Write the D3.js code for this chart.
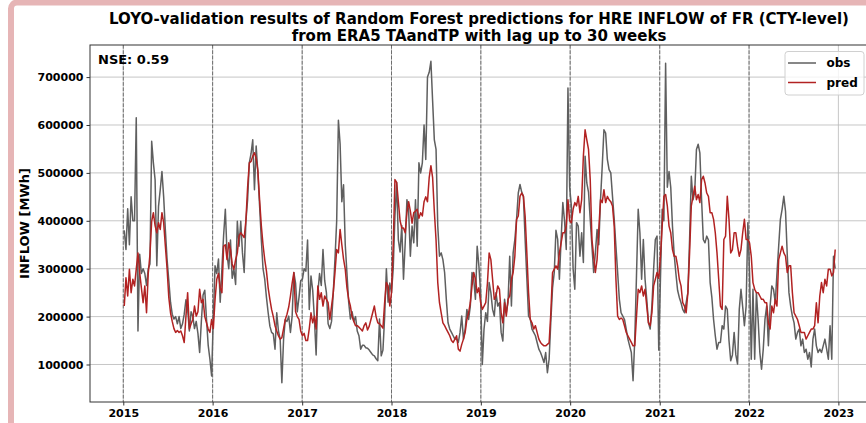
<!DOCTYPE html>
<html>
<head>
<meta charset="utf-8">
<script src="https://cdn.jsdelivr.net/npm/d3@7"></script>
<style>
  html, body { margin: 0; padding: 0; background: #fff; }
  svg { display: block; font-family: "DejaVu Sans", sans-serif; }
</style>
</head>
<body>
<svg id="chart" width="866" height="423"></svg>
<script>
// Weekly HRE inflow for FR, observed vs. Random Forest prediction (values in thousand MWh)
const obs2015 = [380,340,425,350,450,400,400,615,170,330,290,300,290,265,300,310,566,521,486,306,430,465,503,450,380,319,275,230,205,195,200,185,200,175,185,205,235,215,170,210,200,175,190,165,125,190,245,255,195,140,111,76];
const obs2016 = [200,306,290,320,230,300,370,424,330,300,360,280,299,267,399,347,399,333,292,399,444,521,540,569,465,556,500,431,361,300,278,240,208,180,167,164,132,208,170,153,62,153,194,190,201,167,201,292,270,210,240,275];
const obs2017 = [278,300,295,360,215,285,255,195,120,250,290,265,340,275,250,185,175,190,250,320,400,610,560,440,475,350,290,230,195,210,190,200,170,160,132,140,140,135,134,130,125,120,118,112,108,195,118,130,200,300,230,270];
const obs2018 = [250,300,410,480,360,335,390,278,354,444,420,326,389,354,444,347,521,500,521,600,528,700,710,733,650,569,549,389,326,333,319,292,236,187,174,167,160,153,153,146,167,201,153,174,215,194,222,292,278,236,347,306];
const obs2019 = [250,100,174,208,190,271,250,215,201,250,222,229,167,149,236,208,229,326,222,333,361,403,458,476,460,451,361,280,201,195,174,167,160,146,132,125,115,104,125,83,111,190,260,292,380,361,278,361,438,400,340,677];
const obs2020 = [470,431,300,257,396,389,326,375,313,535,479,460,403,347,292,333,382,350,444,514,590,583,528,507,500,451,403,347,292,236,208,201,194,174,153,139,125,66,153,285,424,375,278,361,278,236,187,174,222,299,361,368];
const obs2021 = [130,280,424,400,729,470,503,470,389,330,290,255,240,229,215,208,229,250,361,493,444,460,549,560,542,444,361,354,368,360,271,240,194,160,132,146,146,181,174,222,215,150,108,120,167,120,101,215,257,220,181,222];
const obs2022 = [396,292,111,257,111,250,194,125,90,132,194,222,139,222,264,257,229,290,347,403,424,451,420,330,250,222,201,187,153,167,174,139,153,125,132,111,125,95,153,174,139,125,132,125,139,153,132,111,181,111,326,300];

const pred2015 = [222,281,243,299,250,278,264,299,333,292,260,229,264,208,290,330,399,417,390,375,396,382,417,396,347,300,240,208,190,175,167,171,167,170,160,146,200,250,174,185,194,222,201,210,257,229,236,200,187,174,167,194];
const pred2016 = [175,236,278,290,260,250,347,350,319,354,340,310,299,319,333,368,375,370,365,400,470,521,524,535,542,530,505,444,390,350,319,295,260,236,215,200,181,170,160,153,156,175,194,205,220,243,270,292,210,200,194,170];
const pred2017 = [160,165,150,150,175,208,187,201,174,264,236,250,222,243,236,229,194,222,250,292,340,333,382,350,320,299,260,236,222,200,190,181,181,178,174,170,181,187,172,180,194,208,222,200,187,185,181,176,230,271,264,222];
const pred2018 = [250,350,486,480,440,400,385,385,375,417,440,420,395,417,420,424,405,417,410,440,450,440,490,515,490,420,360,271,229,208,187,181,174,167,160,150,146,153,160,132,128,142,153,167,194,208,229,264,292,278,250,260];
const pred2019 = [230,215,222,229,270,333,319,278,236,243,264,257,208,187,229,201,236,243,278,292,326,403,410,451,458,451,410,333,250,194,187,174,181,167,153,146,142,139,139,142,145,208,292,299,306,299,333,354,375,375,389,444];
const pred2020 = [400,396,424,438,431,451,417,444,535,590,569,549,486,361,326,292,319,382,444,438,465,438,451,444,440,431,389,278,201,194,197,194,181,167,160,153,146,139,139,200,257,250,264,243,257,222,187,181,208,264,278,292];
const pred2021 = [280,326,389,451,455,431,389,375,340,326,326,306,278,264,229,222,208,250,333,431,451,472,444,455,438,486,493,479,458,451,417,417,403,375,333,278,222,215,361,368,451,403,333,340,375,375,347,326,340,375,403,361];
const pred2022 = [361,354,326,271,257,250,250,243,236,236,229,229,187,174,222,208,236,222,319,333,347,333,326,292,306,306,250,208,201,194,181,167,167,167,153,160,167,174,174,181,229,187,243,271,250,278,264,299,299,285,292,340];

const years = [2015, 2016, 2017, 2018, 2019, 2020, 2021, 2022];
const yearTicks = [2015, 2016, 2017, 2018, 2019, 2020, 2021, 2022, 2023];
const yTicks = [100000, 200000, 300000, 400000, 500000, 600000, 700000];
const nseText = "NSE: 0.59";
const titleLines = [
  "LOYO-validation results of Random Forest predictions for HRE INFLOW of FR (CTY-level)",
  "from ERA5 TAandTP with lag up to 30 weeks"
];
const firstWeek = new Date(2015, 0, 5);

const obsYears = [obs2015, obs2016, obs2017, obs2018, obs2019, obs2020, obs2021, obs2022];
const predYears = [pred2015, pred2016, pred2017, pred2018, pred2019, pred2020, pred2021, pred2022];

function toSeries(byYear) {
  return byYear.flatMap((arr, k) => arr.map((v, i) => ({
    date: d3.timeDay.offset(firstWeek, 7 * (k * 52 + i)),
    value: v * 1000
  })));
}
const obsSeries = toSeries(obsYears);
const predSeries = toSeries(predYears);

// ---- layout ----
const W = 866, H = 423;
const plot = { left: 90, right: 868, top: 45, bottom: 402 };
const font = "DejaVu Sans, sans-serif";

const svg = d3.select("#chart");

// page frame
svg.append("rect").attr("width", W).attr("height", H).attr("fill", "#fff");
svg.append("rect")
  .attr("x", 11).attr("y", 2.5).attr("width", 880).attr("height", 440)
  .attr("rx", 6).attr("fill", "#fff")
  .attr("stroke", "#e6b5b6").attr("stroke-width", 6);

const x = d3.scaleTime()
  .domain([new Date(2014, 7, 18), new Date(2023, 4, 2)])
  .range([plot.left, plot.right]);
const y = d3.scaleLinear()
  .domain([21700, 767000])
  .range([plot.bottom, plot.top]);

const yearDate = yr => new Date(yr, 0, 1);

// grid
const grid = svg.append("g").attr("stroke", "#b8b8b8").attr("stroke-width", 0.8);
grid.selectAll("line.h").data(yTicks).join("line")
  .attr("x1", plot.left).attr("x2", plot.right)
  .attr("y1", d => y(d)).attr("y2", d => y(d));
grid.selectAll("line.v").data(yearTicks).join("line")
  .attr("x1", d => x(yearDate(d))).attr("x2", d => x(yearDate(d)))
  .attr("y1", plot.top).attr("y2", plot.bottom);

// year boundaries
svg.append("g").selectAll("line").data(years).join("line")
  .attr("x1", d => x(yearDate(d))).attr("x2", d => x(yearDate(d)))
  .attr("y1", plot.top).attr("y2", plot.bottom)
  .attr("stroke", "#6e6e6e").attr("stroke-width", 1)
  .attr("stroke-dasharray", "3.7,1.6");

// series
svg.append("clipPath").attr("id", "plotClip").append("rect")
  .attr("x", plot.left).attr("y", plot.top)
  .attr("width", plot.right - plot.left).attr("height", plot.bottom - plot.top);

const line = d3.line().x(d => x(d.date)).y(d => y(d.value));
const seriesG = svg.append("g").attr("clip-path", "url(#plotClip)");
seriesG.append("path").datum(obsSeries)
  .attr("d", line).attr("fill", "none")
  .attr("stroke", "#5f5f5f").attr("stroke-width", 1.5).attr("stroke-linejoin", "round");
seriesG.append("path").datum(predSeries)
  .attr("d", line).attr("fill", "none")
  .attr("stroke", "#b22222").attr("stroke-width", 1.5).attr("stroke-linejoin", "round");

// frame of the axes
svg.append("rect")
  .attr("x", plot.left).attr("y", plot.top)
  .attr("width", plot.right - plot.left).attr("height", plot.bottom - plot.top)
  .attr("fill", "none").attr("stroke", "#333").attr("stroke-width", 1);

// axes
const yAxis = svg.append("g")
  .attr("transform", `translate(${plot.left},0)`)
  .call(d3.axisLeft(y).tickValues(yTicks).tickFormat(d3.format("d")).tickSize(3.5).tickPadding(3));
const xAxis = svg.append("g")
  .attr("transform", `translate(0,${plot.bottom})`)
  .call(d3.axisBottom(x).tickValues(yearTicks.map(yearDate)).tickFormat(d3.timeFormat("%Y")).tickSize(3.5).tickPadding(4));
[yAxis, xAxis].forEach(g => {
  g.select(".domain").remove();
  g.selectAll(".tick line").attr("stroke", "#333");
  g.selectAll(".tick text")
    .attr("fill", "#000").style("font-family", font)
    .style("font-size", "11px").style("font-weight", "bold");
});
xAxis.selectAll(".tick text").attr("dy", "0.71em");

// y label
svg.append("text")
  .attr("transform", `translate(29,${(plot.top + plot.bottom) / 2}) rotate(-90)`)
  .attr("text-anchor", "middle")
  .style("font-family", font).style("font-size", "13px").style("font-weight", "bold")
  .text("INFLOW [MWh]");

// title
svg.append("g").selectAll("text").data(titleLines).join("text")
  .attr("x", (plot.left + plot.right) / 2)
  .attr("y", (d, i) => 24 + i * 17)
  .attr("text-anchor", "middle")
  .style("font-family", font).style("font-size", "15px").style("font-weight", "bold")
  .text(d => d);

// NSE annotation
svg.append("text")
  .attr("x", 98).attr("y", 64)
  .style("font-family", font).style("font-size", "13px").style("font-weight", "bold")
  .text(nseText);

// legend
const legend = svg.append("g");
legend.append("rect")
  .attr("x", 785).attr("y", 51.5).attr("width", 79).attr("height", 43.5).attr("rx", 3)
  .attr("fill", "#fff").attr("fill-opacity", 0.8)
  .attr("stroke", "#d0d0d0").attr("stroke-width", 1);
const legendItems = [
  { label: "obs", color: "#5f5f5f" },
  { label: "pred", color: "#b22222" }
];
legendItems.forEach((item, i) => {
  const cy = 63 + i * 19.5;
  legend.append("line")
    .attr("x1", 788).attr("x2", 816).attr("y1", cy).attr("y2", cy)
    .attr("stroke", item.color).attr("stroke-width", 1.5);
  legend.append("text")
    .attr("x", 826.5).attr("y", cy + 4.3)
    .style("font-family", font).style("font-size", "12px").style("font-weight", "bold")
    .text(item.label);
});
</script>
</body>
</html>
